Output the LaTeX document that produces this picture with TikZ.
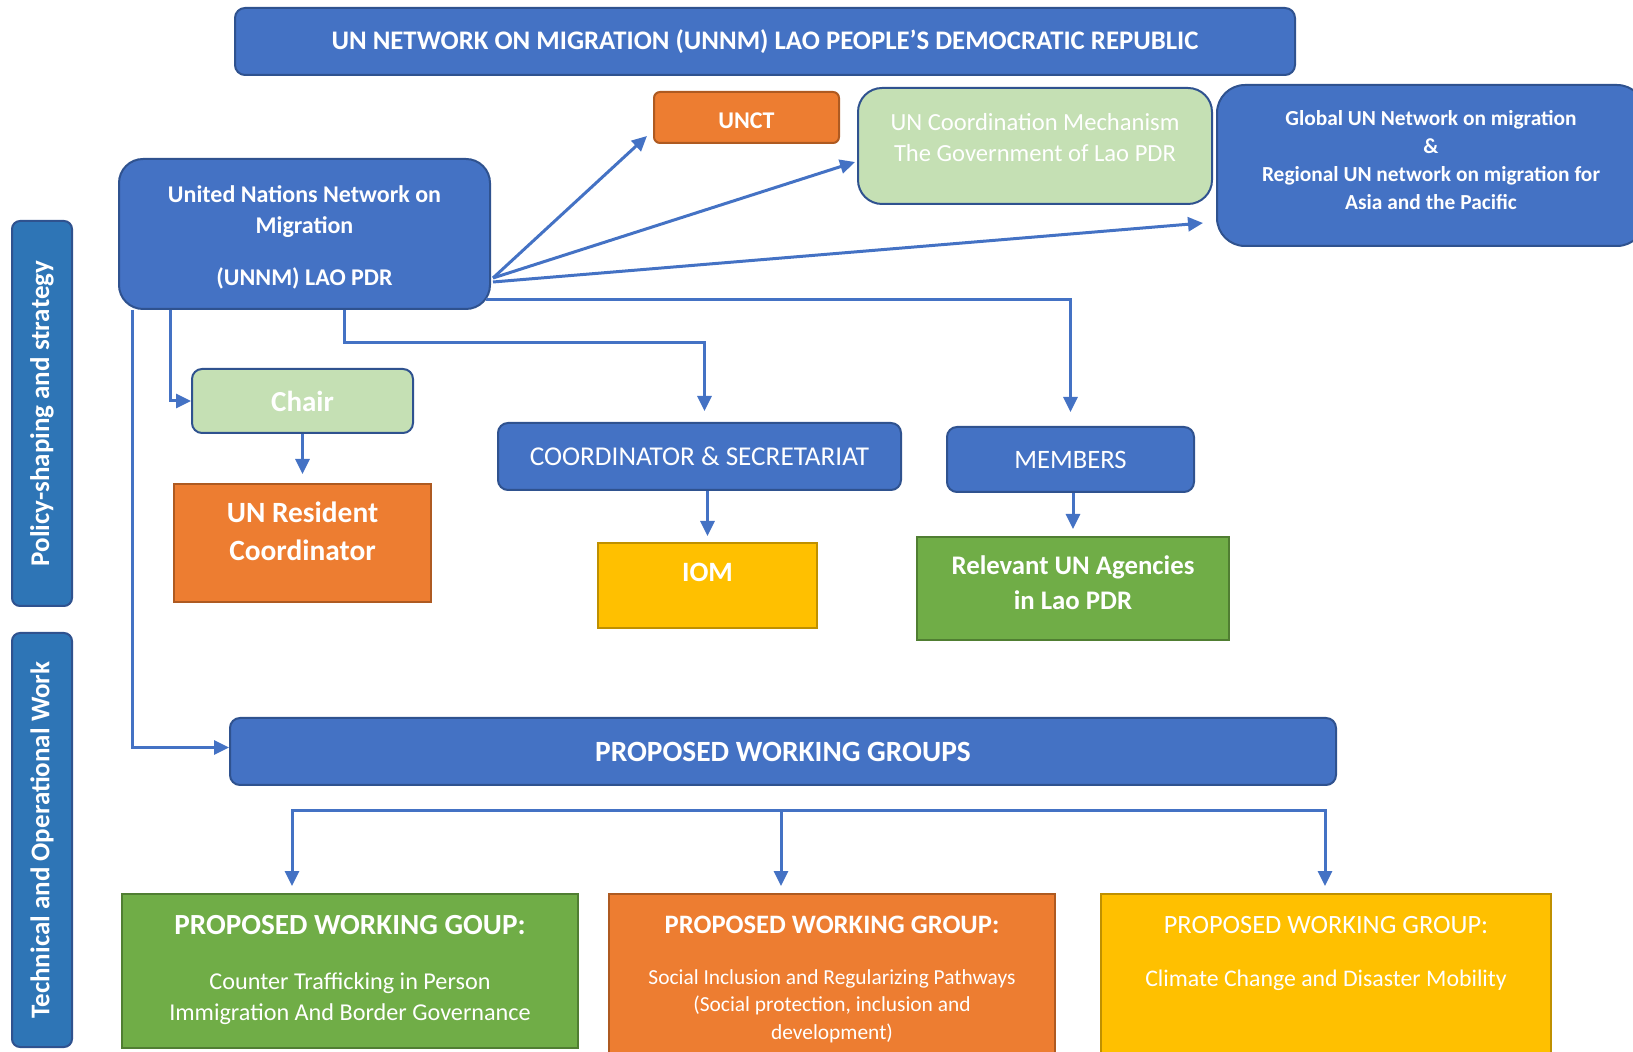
\documentclass[tikz,border=0pt]{standalone}
\usepackage{fontspec}
\setmainfont{Carlito}
\usepackage{tikz}
\usetikzlibrary{arrows.meta,positioning}
\usepackage{xcolor}
\definecolor{unblue}{HTML}{4472C4}
\definecolor{unblueline}{HTML}{2F528F}
\definecolor{sideblue}{HTML}{2E75B6}
\definecolor{unorange}{HTML}{ED7D31}
\definecolor{unorangeline}{HTML}{AE5A21}
\definecolor{ungreen}{HTML}{70AD47}
\definecolor{ungreenline}{HTML}{507E32}
\definecolor{palegreen}{HTML}{C5E0B4}
\definecolor{unyellow}{HTML}{FFC000}
\definecolor{unyellowline}{HTML}{BF9000}
\newcommand{\fsz}[2]{\fontsize{#1pt}{#2pt}\selectfont}

\begin{document}
\begin{tikzpicture}[x=0.5pt,y=-0.5pt,
	every node/.style={text=white,align=center,inner sep=0pt},
	bluebox/.style={draw=unblueline,fill=unblue,line width=1pt},
	sidebox/.style={draw=unblueline,fill=sideblue,line width=1pt,rounded corners=4pt,rotate=90,minimum height=30pt,font=\bfseries\fsz{13.5}{16}},
	flatbox/.style={draw=#1line,fill=#1,line width=1pt},
	arr/.style={-{Triangle[length=7.5pt,width=7pt]},draw=unblue,line width=1.5pt},
	line/.style={draw=unblue,line width=1.5pt,line cap=rect}]
	\useasboundingbox (0,0) rectangle (1633,1052);
	\clip (0,0) rectangle (1633,1052);
	
	% Titolo
	\node[bluebox,rounded corners=5pt,minimum width=530pt,minimum height=33.5pt,font=\bfseries\fsz{13.4}{16}] (tit) at (765,41.5) {UN NETWORK ON MIGRATION (UNNM) LAO PEOPLE’S DEMOCRATIC REPUBLIC};
	
	% Fasce laterali
	\node[sidebox,minimum width=192.5pt] (pol) at (42,413.5) {Policy-shaping and strategy};
	\node[sidebox,minimum width=207pt] (tec) at (42,840) {Technical and Operational Work};
	
	% Rete UNNM e partner
	\node[bluebox,rounded corners=12pt,minimum width=185.5pt,minimum height=75pt] (unnm) at (304.5,234) {};
	\node[font=\bfseries\fsz{12}{15.5}] at ([yshift=-1.5pt]unnm.center) {United Nations Network on\\Migration\\[10.5pt](UNNM) LAO PDR};
	\node[flatbox=unorange,rounded corners=3pt,minimum width=92.5pt,minimum height=25.5pt] (unct) at (746.5,117.5) {};
	\node[font=\bfseries\fsz{12}{14}] at ([yshift=-1.5pt]unct.center) {UNCT};
	\node[draw=unblueline,fill=palegreen,line width=1pt,rounded corners=12pt,minimum width=177pt,minimum height=58pt] (ucm) at (1035,146) {};
	\node[font=\fsz{12.3}{15.5}] at ([yshift=-25.5pt]ucm.north) {UN Coordination Mechanism\\The Government of Lao PDR};
	\node[bluebox,rounded corners=14pt,minimum width=214pt,minimum height=80.5pt] (glob) at (1431,165.5) {};
	\node[font=\bfseries\fsz{10.7}{14}] at ([yshift=2.6pt]glob.center) {Global UN Network on migration\\\&\\Regional UN network on migration for\\Asia and the Pacific};
	
	% Ruoli
	\node[draw=unblueline,fill=palegreen,line width=1pt,rounded corners=5pt,minimum width=110.5pt,minimum height=32pt,font=\bfseries\fsz{14.5}{17}] (chair) at (302.5,401) {Chair};
	\node[flatbox=unorange,minimum width=128.5pt,minimum height=59pt,below=24.5pt of chair] (rc) {};
	\node[font=\bfseries\fsz{14.7}{19}] at ([yshift=-24pt]rc.north) {UN Resident\\Coordinator};
	\node[bluebox,rounded corners=5pt,minimum width=201.5pt,minimum height=33.5pt,font=\fsz{13.6}{16}] (coord) at (699.5,456.5) {COORDINATOR \& SECRETARIAT};
	\node[flatbox=unyellow,minimum width=109.5pt,minimum height=42.5pt,below=25.5pt of coord,xshift=4pt] (iom) {};
	\node[font=\bfseries\fsz{14}{17}] at ([yshift=-15pt]iom.north) {IOM};
	\node[bluebox,rounded corners=5pt,minimum width=123.5pt,minimum height=32.5pt,font=\fsz{13.3}{16}] (memb) at (1070.5,459.5) {MEMBERS};
	\node[flatbox=ungreen,minimum width=156pt,minimum height=51.5pt,below=21.5pt of memb,xshift=1.25pt] (agen) {};
	\node[font=\bfseries\fsz{13.4}{17.2}] at ([yshift=3pt]agen.center) {Relevant UN Agencies\\in Lao PDR};
	
	% Gruppi di lavoro
	\node[bluebox,rounded corners=5pt,minimum width=553pt,minimum height=33.5pt,font=\bfseries\fsz{14.7}{17}] (pwg) at (783,751.5) {PROPOSED WORKING GROUPS};
	\node[flatbox=ungreen,minimum width=228pt,minimum height=77pt] (wgA) at (350,971) {};
	\node[font=\bfseries\fsz{14.6}{17}] at ([yshift=-16pt]wgA.north) {PROPOSED WORKING GOUP:};
	\node[font=\fsz{12.1}{15.5}] at ([yshift=-53pt]wgA.north) {Counter Trafficking in Person\\Immigration And Border Governance};
	\node[flatbox=unorange,minimum width=223pt,minimum height=87.5pt] (wgB) at (832,981.5) {};
	\node[font=\bfseries\fsz{13.3}{16}] at ([yshift=-16pt]wgB.north) {PROPOSED WORKING GROUP:};
	\node[font=\fsz{10.7}{13.8}] at ([yshift=-56.5pt]wgB.north) {Social Inclusion and Regularizing Pathways\\(Social protection, inclusion and\\development)};
	\node[flatbox=unyellow,minimum width=225pt,minimum height=87.5pt] (wgC) at (1326,981.5) {};
	\node[font=\fsz{13.2}{16}] at ([yshift=-16pt]wgC.north) {PROPOSED WORKING GROUP:};
	\node[font=\fsz{11.9}{14}] at ([yshift=-43.5pt]wgC.north) {Climate Change and Disaster Mobility};
	
	% Frecce
	\coordinate (hub) at ([xshift=1pt,yshift=16pt]unnm.south east);
	\draw[arr] (hub) -- ([xshift=-3pt,yshift=4pt]unct.south west);
	\draw[arr] (hub) -- ([xshift=-1pt,yshift=-8pt]ucm.west);
	\draw[arr] ([yshift=-2pt]hub) -- ([xshift=-6.5pt,yshift=12pt]glob.south west);
	\draw[arr] ([xshift=-2.5pt,yshift=5pt]unnm.south east) -| ([yshift=7pt]memb.north);
	\draw[arr] ([xshift=20pt]unnm.south) -- ++(0,33) -| ([xshift=2.5pt,yshift=5.5pt]coord.north);
	\draw[arr] ([xshift=-67pt]unnm.south) |- (chair.west);
	\draw[arr] ([xshift=-86pt]unnm.south) |- ([yshift=2pt]pwg.west);
	\draw[arr,shorten >=4.5pt] (chair.south) -- (rc.north);
	\draw[arr,shorten >=3pt] (coord.south -| iom.north) -- (iom.north);
	\draw[arr,shorten >=3.5pt] (memb.south -| agen.north) -- (agen.north);
	
	% Distribuzione ai gruppi
	\coordinate (busA) at (292,811);
	\coordinate (busB) at (781,811);
	\coordinate (busC) at (1325,811);
	\draw[line] (busA) -- (busC);
	\foreach \b/\w in {busA/wgA,busB/wgB,busC/wgC}
		\draw[arr,shorten >=3.5pt] (\b) -- (\b |- \w.north);
\end{tikzpicture}
\end{document}
